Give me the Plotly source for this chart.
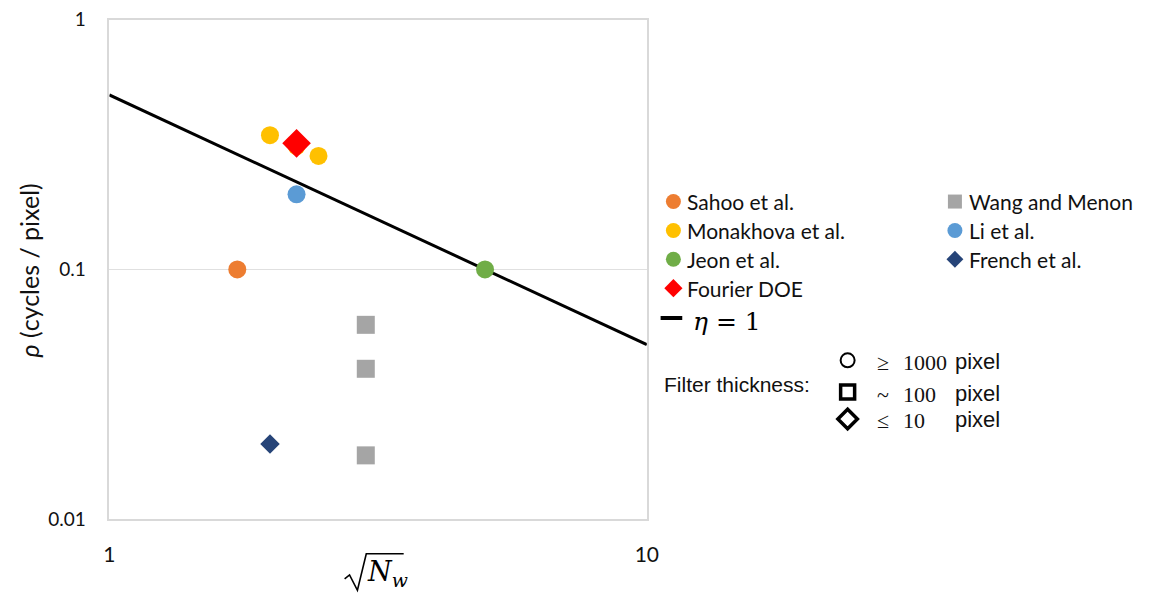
import plotly.graph_objects as go

W, H = 1151, 609

# Published results: sqrt(N_w) vs. spatial frequency rho (cycles / pixel)
sahoo_x = [1.73]
sahoo_y = [0.10]
monakhova_x = [1.99, 2.23, 2.45]
monakhova_y = [0.345, 0.312, 0.285]
li_x = [2.23]
li_y = [0.20]
jeon_x = [5.0]
jeon_y = [0.10]
wang_x = [3.0, 3.0, 3.0]
wang_y = [0.060, 0.040, 0.018]
french_x = [1.99]
french_y = [0.020]
fourier_x = [2.23]
fourier_y = [0.32]

# eta = 1 reference line endpoints
eta_x = [1, 10]
eta_y = [0.5, 0.05]

x_ticks = [1, 10]
x_tick_text = ["1", "10"]
y_ticks = [0.01, 0.1, 1]
y_tick_text = ["0.01", "0.1", "1"]

ORANGE = "#ED7D31"
GOLD = "#FFC000"
BLUE = "#5B9BD5"
GREEN = "#70AD47"
GRAY = "#A5A5A5"
NAVY = "#264478"
RED = "#FF0000"
INK = "#111111"

SANS = "Lato, 'Open Sans', sans-serif"
SERIF = "'DejaVu Serif', 'Liberation Serif', serif"
TIMES = "'Liberation Serif', 'DejaVu Serif', serif"
ARIAL = "'Liberation Sans', Arial, sans-serif"

# plot area in pixels
PL, PR, PT, PB = 105, 651, 8, 527

fig = go.Figure()

fig.add_trace(go.Scatter(x=eta_x, y=eta_y, mode="lines",
                         line=dict(color="black", width=3), showlegend=False))

def pts(x, y, color, symbol, size):
    fig.add_trace(go.Scatter(x=x, y=y, mode="markers", showlegend=False,
                             marker=dict(color=color, symbol=symbol, size=size,
                                         line=dict(width=0))))

pts(sahoo_x, sahoo_y, ORANGE, "circle", 18)
pts(monakhova_x, monakhova_y, GOLD, "circle", 18)
pts(li_x, li_y, BLUE, "circle", 18)
pts(jeon_x, jeon_y, GREEN, "circle", 18)
pts(wang_x, wang_y, GRAY, "square", 18)
pts(french_x, french_y, NAVY, "diamond", 15)
pts(fourier_x, fourier_y, RED, "diamond", 22)

# ---- legend drawn on a pixel-space overlay axis ----
legend_rows = [
    ("Sahoo et al.", ORANGE, "circle", 15, 678, 197, 692),
    ("Monakhova et al.", GOLD, "circle", 15, 678, 227, 692),
    ("Jeon et al.", GREEN, "circle", 15, 678, 257, 692),
    ("Fourier DOE", RED, "diamond", 14, 678, 287, 692),
    ("Wang and Menon", GRAY, "square", 14, 964, 197, 978),
    ("Li et al.", BLUE, "circle", 15, 964, 227, 978),
    ("French et al.", NAVY, "diamond", 13, 964, 257, 978),
]
for name, color, sym, size, mx, my, tx in legend_rows:
    fig.add_trace(go.Scatter(x=[mx], y=[my], xaxis="x2", yaxis="y2", mode="markers",
                             showlegend=False,
                             marker=dict(color=color, symbol=sym, size=size, line=dict(width=0))))
    fig.add_annotation(x=tx - 2, y=my, xref="x2", yref="y2", text=name, showarrow=False,
                       xanchor="left", yanchor="middle",
                       font=dict(family=SANS, size=21, color=INK))

# eta = 1 legend entry
fig.add_shape(type="line", x0=665, x1=687, y0=318, y1=318, xref="x2", yref="y2",
              line=dict(color="black", width=4))
fig.add_annotation(x=696, y=322, xref="x2", yref="y2", showarrow=False,
                   xanchor="left", yanchor="middle",
                   text="<i>η</i> = 1", font=dict(family=SERIF, size=25, color="black"))

# filter thickness key
fig.add_annotation(x=666, y=387, xref="x2", yref="y2", showarrow=False,
                   xanchor="left", yanchor="middle", text="Filter thickness:",
                   font=dict(family=ARIAL, size=21, color=INK))
key_rows = [("circle-open", 14, 2, 362, "≥", "1000"),
            ("square-open", 14, 3.5, 395, "~", "100"),
            ("diamond-open", 15, 3.5, 423, "≤", "10")]
for sym, size, lw, ky, rel, num in key_rows:
    fig.add_trace(go.Scatter(x=[855], y=[ky], xaxis="x2", yaxis="y2", mode="markers",
                             showlegend=False,
                             marker=dict(color="black", symbol=sym, size=size,
                                         line=dict(color="black", width=lw))))
    fig.add_annotation(x=883, y=ky + 2, xref="x2", yref="y2", showarrow=False,
                       xanchor="left", yanchor="middle", text=rel,
                       font=dict(family=TIMES, size=22, color=INK))
    fig.add_annotation(x=909, y=ky + 2, xref="x2", yref="y2", showarrow=False,
                       xanchor="left", yanchor="middle", text=num,
                       font=dict(family=TIMES, size=22, color=INK))
    fig.add_annotation(x=962, y=ky + 1, xref="x2", yref="y2", showarrow=False,
                       xanchor="left", yanchor="middle", text="pixel",
                       font=dict(family=ARIAL, size=22, color=INK))

# axis titles
fig.add_annotation(x=23, y=269, xref="x2", yref="y2", showarrow=False, textangle=-90,
                   text="<i>ρ</i> (cycles / pixel)",
                   font=dict(family=SANS, size=25, color=INK))
fig.add_shape(type="path", xref="x2", yref="y2",
              path="M 344 589 L 349 585 L 357 601 L 366 563 L 404 563",
              line=dict(color="black", width=1.6))
fig.add_annotation(x=365, y=584, xref="x2", yref="y2", showarrow=False, xanchor="left",
                   text="<i>N<sub>w</sub></i>", font=dict(family=SERIF, size=27, color="black"))

fig.update_layout(
    width=W, height=H,
    margin=dict(l=0, r=0, t=0, b=0),
    paper_bgcolor="white", plot_bgcolor="rgba(0,0,0,0)",
    showlegend=False,
    xaxis=dict(type="log", range=[0, 1], domain=[PL / W, PR / W],
               tickvals=x_ticks, ticktext=x_tick_text, ticks="",
               showgrid=False, zeroline=False, ticklabeloverflow="allow",
               showline=True, linecolor="#d9d9d9", linewidth=1.5, mirror=True,
               tickfont=dict(family=SANS, size=21, color=INK), ticklabelstandoff=16),
    yaxis=dict(type="log", range=[-2, 0.0004], domain=[1 - PB / H, 1 - PT / H],
               tickvals=y_ticks, ticktext=y_tick_text, ticks="",
               showgrid=True, gridcolor="#e0e0e0", gridwidth=1.2, zeroline=False,
               ticklabeloverflow="allow",
               showline=True, linecolor="#d9d9d9", linewidth=1.5, mirror=True,
               tickfont=dict(family=SANS, size=19, color=INK), ticklabelstandoff=18),
    xaxis2=dict(domain=[0, 1], range=[0, W], visible=False, fixedrange=True,
                anchor="y2"),
    yaxis2=dict(domain=[0, 1], range=[H, 0], visible=False, fixedrange=True,
                anchor="x2"),
)

fig.write_html("out.html")
